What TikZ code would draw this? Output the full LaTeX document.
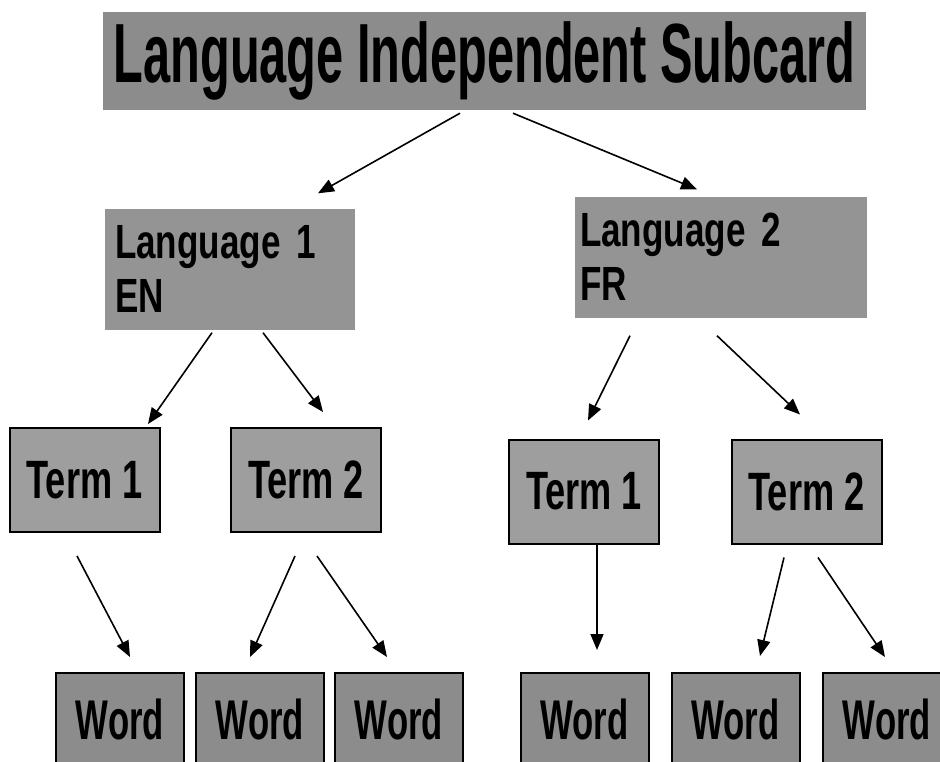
\documentclass[tikz,border=0pt]{standalone}
\usepackage{fontspec}
\usepackage{tikz}
\usetikzlibrary{arrows.meta}
\newfontfamily\subcardfont[FakeStretch=0.58]{Liberation Sans}
\newfontfamily\languagefont[FakeStretch=0.73]{Liberation Sans}
\newfontfamily\termfont[FakeStretch=0.67]{Liberation Sans}
\newfontfamily\wordfont[FakeStretch=0.62]{Liberation Sans}

\begin{document}
\begin{tikzpicture}[x=1pt, y=-1pt,
    >={Triangle[length=16pt, width=13pt]},
    link/.style={->, line width=1.6pt},
    subcard/.style={fill=black!45, inner sep=0pt, minimum width=763pt, minimum height=98pt,
      font=\subcardfont\bfseries\fontsize{84}{84}\selectfont},
    language/.style={fill=black!42, inner ysep=0pt, minimum height=121pt, align=left,
      font=\languagefont\bfseries\fontsize{48}{54}\selectfont},
    term/.style={draw, line width=2pt, fill=black!38, inner sep=0pt, minimum width=150pt,
      minimum height=104pt, font=\termfont\bfseries\fontsize{54}{54}\selectfont},
    word/.style={draw, line width=2pt, fill=black!45, inner sep=0pt, minimum width=128pt,
      minimum height=92pt, font=\wordfont\bfseries\fontsize{56}{56}\selectfont}]
  \useasboundingbox (0, 0) rectangle (940, 761);
  \clip (0, 0) rectangle (940, 761);

  \node [subcard] (top) at (484.5, 61) {Language Independent Subcard};

  \node [language, inner xsep=10pt, text width=230pt] (lang1) at (230, 269) {Language 1\\EN};
  \node [language, inner xsep=5pt, text width=282pt] (lang2) at (721, 257) {Language 2\\FR};

  \node [term] (t1) at (84.5, 480) {Term 1};
  \node [term] (t2) at (306, 480) {Term 2};
  \node [term] (t3) at (584, 491.5) {Term 1};
  \node [term] (t4) at (806.5, 491.5) {Term 2};

  \node [word] (w1) at (120, 719) {Word};
  \node [word] (w2) at (260, 719) {Word};
  \node [word] (w3) at (399, 719) {Word};
  \node [word] (w4) at (584.5, 719) {Word};
  \node [word] (w5) at (735.5, 719) {Word};
  \node [word] (w6) at (887, 719) {Word};

  \draw [link] ([xshift=-24.5pt, yshift=-3pt]top.south) -- ([xshift=88pt, yshift=15pt]lang1.north);
  \draw [link] ([xshift=28.5pt, yshift=-3pt]top.south) -- ([xshift=-24pt, yshift=7pt]lang2.north);

  \draw [link] ([xshift=-18pt, yshift=-3pt]lang1.south) -- ([xshift=63.5pt, yshift=3pt]t1.north);
  \draw [link] ([xshift=33pt, yshift=-3pt]lang1.south) -- ([xshift=17pt, yshift=15pt]t2.north);
  \draw [link] ([xshift=-91pt, yshift=-18pt]lang2.south) -- ([xshift=4pt, yshift=18pt]t3.north);
  \draw [link] ([xshift=-4pt, yshift=-18pt]lang2.south) -- ([xshift=-6.5pt, yshift=24pt]t4.north);

  \draw [link] ([xshift=-7.5pt, yshift=-23pt]t1.south) -- ([xshift=10pt, yshift=15pt]w1.north);
  \draw [link] ([xshift=-11pt, yshift=-23pt]t2.south) -- ([xshift=-10pt, yshift=15pt]w2.north);
  \draw [link] ([xshift=11pt, yshift=-23pt]t2.south) -- ([xshift=-12pt, yshift=15pt]w3.north);
  \draw [link] ([xshift=13pt]t3.south) -- ([xshift=12.5pt, yshift=22pt]w4.north);
  \draw [link] ([xshift=-22.5pt, yshift=-13pt]t4.south) -- ([xshift=24.5pt, yshift=16pt]w5.north);
  \draw [link] ([xshift=11.5pt, yshift=-13pt]t4.south) -- ([xshift=-2pt, yshift=15pt]w6.north);
\end{tikzpicture}
\end{document}
